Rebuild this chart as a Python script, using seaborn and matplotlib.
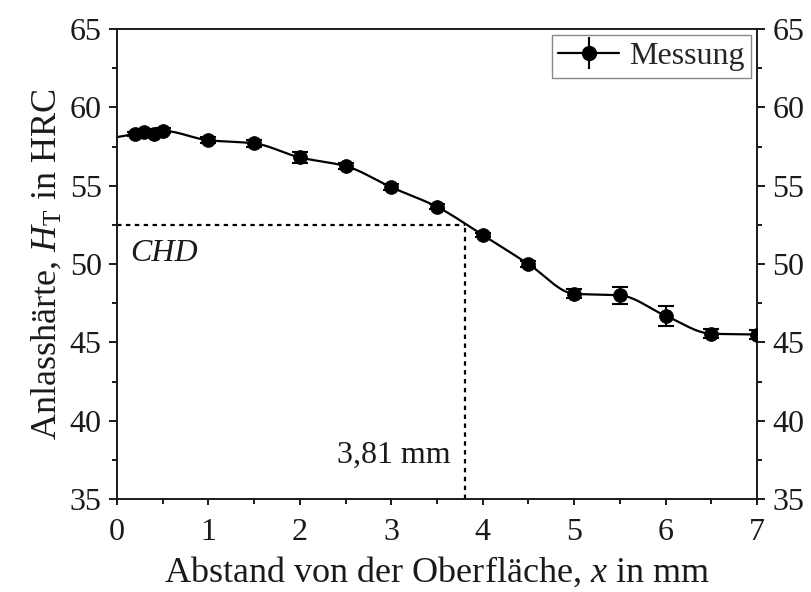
import numpy as np
import matplotlib
matplotlib.use("Agg")
import matplotlib.pyplot as plt
from matplotlib.ticker import AutoMinorLocator
import seaborn as sns

# Measured tempering hardness over distance from the surface
depth = [0.2, 0.3, 0.4, 0.5, 1.0, 1.5, 2.0, 2.5, 3.0, 3.5, 4.0, 4.5, 5.0, 5.5, 6.0, 6.5, 7.0]
hardness = [58.3, 58.4, 58.3, 58.5, 57.9, 57.7, 56.8, 56.25, 54.9, 53.65, 51.85, 50.0, 48.1, 48.0, 46.7, 45.55, 45.5]
hardness_err = [0.15, 0.2, 0.2, 0.15, 0.2, 0.2, 0.35, 0.2, 0.2, 0.15, 0.15, 0.2, 0.3, 0.55, 0.65, 0.3, 0.3]

chd_hardness = 52.5
chd_depth = 3.81

x_ticks = [0, 1, 2, 3, 4, 5, 6, 7]
y_ticks = [35, 40, 45, 50, 55, 60, 65]


def pchip(xk, yk, xs):
    """Shape-preserving piecewise cubic through the measurements."""
    xk = np.asarray(xk, float)
    yk = np.asarray(yk, float)
    h = np.diff(xk)
    delta = np.diff(yk) / h
    n = len(xk)
    d = np.zeros(n)
    for i in range(1, n - 1):
        if delta[i - 1] * delta[i] > 0:
            w1 = 2 * h[i] + h[i - 1]
            w2 = h[i] + 2 * h[i - 1]
            d[i] = (w1 + w2) / (w1 / delta[i - 1] + w2 / delta[i])
    d[0] = delta[0]
    d[-1] = delta[-1]
    out = np.empty_like(xs)
    for j, x in enumerate(xs):
        if x <= xk[0]:
            out[j] = yk[0] + d[0] * (x - xk[0])
            continue
        i = min(np.searchsorted(xk, x) - 1, n - 2)
        t = (x - xk[i]) / h[i]
        h00 = 2 * t ** 3 - 3 * t ** 2 + 1
        h10 = t ** 3 - 2 * t ** 2 + t
        h01 = -2 * t ** 3 + 3 * t ** 2
        h11 = t ** 3 - t ** 2
        out[j] = (h00 * yk[i] + h10 * h[i] * d[i] + h01 * yk[i + 1]
                  + h11 * h[i] * d[i + 1])
    return out


sns.set_theme(style="ticks")
plt.rcParams["font.family"] = ["Liberation Serif", "DejaVu Serif"]
plt.rcParams["mathtext.fontset"] = "custom"
plt.rcParams["mathtext.rm"] = "Liberation Serif"
plt.rcParams["mathtext.it"] = "Liberation Serif:italic"

ink = "#1a1a1a"
fig = plt.figure(figsize=(8.11, 5.92), dpi=100)
ax = fig.add_axes([117 / 811, 1 - 499 / 592, 640 / 811, 470 / 592])

# smooth curve through the measurements
xs = np.linspace(0, 7, 500)
ys = pchip(depth, hardness, xs)
sns.lineplot(x=xs, y=ys, color="black", linewidth=1.6, ax=ax, legend=False, zorder=2)

ax.errorbar(depth, hardness, yerr=hardness_err, fmt="none", ecolor="black",
            elinewidth=1.5, capsize=5.5, capthick=1.5, zorder=3)
sns.scatterplot(x=depth, y=hardness, s=100, color="black", edgecolor="black",
                linewidth=0.5, ax=ax, legend=False, zorder=4)

# legend entry for the measurement series
proxy = ax.errorbar([], [], yerr=[], fmt="-o", color="black", ms=10, lw=1.6,
                    elinewidth=1.5, capsize=5.5, capthick=1.5, label="Messung")

# case hardening depth construction
ax.plot([0, chd_depth], [chd_hardness, chd_hardness], color="black", lw=1.6,
        linestyle=(0, (2, 2)), zorder=1)
ax.plot([chd_depth, chd_depth], [35, chd_hardness], color="black", lw=1.6,
        linestyle=(0, (2, 2)), zorder=1)
ax.text(0.15, 50.7, "CHD", fontsize=23, style="italic", ha="left", va="center", color=ink)
ax.text(3.65, 37.8, f"{chd_depth:.2f}".replace(".", ",") + " mm", fontsize=23,
        ha="right", va="center", color=ink)

ax.set_xlim(0, 7)
ax.set_ylim(35, 65)
ax.set_xticks(x_ticks)
ax.set_yticks(y_ticks)
ax.set_xticklabels([str(v) for v in x_ticks])
ax.set_yticklabels([str(v) for v in y_ticks])
ax.xaxis.set_minor_locator(AutoMinorLocator(2))
ax.yaxis.set_minor_locator(AutoMinorLocator(2))

for side in ["left", "right", "top", "bottom"]:
    ax.spines[side].set_visible(True)
    ax.spines[side].set_linewidth(1.4)
    ax.spines[side].set_color(ink)

ax.tick_params(axis="y", which="major", direction="out", length=6, width=1.4,
               labelsize=23, pad=5, color=ink, labelcolor=ink)
ax.tick_params(axis="x", which="major", direction="out", length=4.5, width=1.4,
               labelsize=23, pad=9.5, color=ink, labelcolor=ink)
ax.tick_params(axis="both", which="minor", direction="out", length=3.5, width=1.4,
               color=ink)
ax.tick_params(axis="y", which="both", left=True, right=True, labelleft=True, labelright=True)
ax.tick_params(axis="x", which="both", bottom=True, top=False)

ax.set_xlabel(r"Abstand von der Oberfläche, $x$ in mm", fontsize=26, color=ink, labelpad=5.5)
ax.set_ylabel(r"Anlasshärte, $H_\mathrm{T}$ in HRC", fontsize=26, color=ink, labelpad=4)

leg = ax.legend(handles=[proxy], labels=["Messung"], loc="upper right", fontsize=23,
                frameon=True, fancybox=False, edgecolor="#888888", framealpha=1,
                borderaxespad=0.2, handlelength=1.9, handletextpad=0.3,
                borderpad=0.2)
leg.get_frame().set_linewidth(1.0)

ax.set_facecolor("white")
fig.patch.set_facecolor("white")
fig.savefig("out.png", dpi=100)
